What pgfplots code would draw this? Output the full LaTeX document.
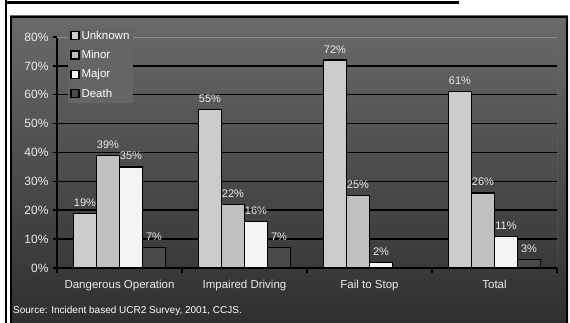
\documentclass[border=0pt]{standalone}
\usepackage{pgfplots}
\pgfplotsset{compat=1.18}
\usepackage{fontspec}
\setmainfont{Liberation Sans}

\definecolor{cUnknown}{HTML}{CCCCCC}
\definecolor{cMinor}{HTML}{C0C0C0}
\definecolor{cMajor}{HTML}{F4F4F4}
\definecolor{cDeath}{HTML}{4A4A4A}
\definecolor{panelTop}{HTML}{6A6A6A}
\definecolor{panelBot}{HTML}{2E2E2E}
\definecolor{labelgray}{HTML}{EBEBEB}
\definecolor{legbg}{HTML}{656565}
\definecolor{frameline}{HTML}{8A8A8A}

\begin{document}
\begin{tikzpicture}
\useasboundingbox (0pt,0pt) rectangle (570pt,323pt);
\fill[white] (0pt,0pt) rectangle (570pt,323pt);
% panel with vertical gradient
\shade[top color=panelTop, bottom color=panelBot] (10pt,-4pt) rectangle (568pt,307pt);
\draw[black, line width=2pt] (11pt,-6pt) -- (11pt,306pt) -- (567pt,306pt) -- (567pt,-6pt);
% header rule and left margin rule
\fill[black] (7pt,318.5pt) rectangle (459pt,322pt);
\fill[black] (5pt,0pt) rectangle (6.5pt,323pt);

\begin{axis}[
  at={(57pt,55pt)}, anchor=south west,
  scale only axis, width=500pt, height=231pt,
  xmin=-0.5, xmax=3.5, ymin=0, ymax=80,
  axis x line*=bottom, axis y line*=left,
  axis line style={black, line width=1.5pt, -},
  tick align=outside,
  major tick length=4pt,
  ytick={0,10,...,80},
  yticklabels={0\%,10\%,20\%,30\%,40\%,50\%,60\%,70\%,80\%},
  ytick style={black, line width=1.5pt},
  extra y ticks={10,20,...,70},
  extra y tick labels={},
  extra y tick style={grid=major, major grid style={black, line width=1.5pt}, ytick style={draw=none}},
  xtick={0,1,2,3},
  xticklabels={Dangerous Operation, Impaired Driving, Fail to Stop, Total},
  xtick style={draw=none},
  extra x ticks={-0.5,0.5,1.5,2.5,3.5},
  extra x tick labels={},
  extra x tick style={xtick style={draw=black, line width=1.5pt}, major tick length=5pt},
  y tick label style={font=\fontsize{12}{14}\selectfont, text=labelgray, xshift=-1pt},
  x tick label style={font=\fontsize{11.5}{13}\selectfont, text=labelgray, yshift=-5pt},
  /pgf/number format/assume math mode=true,
  ybar=0pt, bar width=23pt,
  every axis plot/.append style={draw=black, line width=1.2pt},
  nodes near coords={\pgfmathprintnumber[assume math mode=true]{\pgfplotspointmeta}\%},
  every node near coord/.append style={font=\fontsize{11}{13}\selectfont, text=labelgray, anchor=south, yshift=3pt},
  legend cell align=left,
  legend image code/.code={\draw[#1, line width=1.3pt] (0pt,-4pt) rectangle (8pt,4pt);},
  legend style={at={(0.022,1.045)}, anchor=north west, fill=legbg, draw=none,
    font=\fontsize{11.5}{13}\selectfont, text=white, row sep=5.5pt, inner sep=2pt},
]
\addplot[fill=cUnknown] coordinates {(0,19) (1,55) (2,72) (3,61)};
\addplot[fill=cMinor]   coordinates {(0,39) (1,22) (2,25) (3,26)};
\addplot[fill=cMajor]   coordinates {(0,35) (1,16) (2,2)  (3,11)};
\addplot[fill=cDeath]   coordinates {(0,7)  (1,7)  (3,3)};
\legend{Unknown, Minor, Major, Death}
\draw[frameline, line width=0.7pt] (rel axis cs:0,1) -- (rel axis cs:1,1) -- (rel axis cs:1,0);
\end{axis}

\node[anchor=west, text=white, font=\fontsize{10}{11}\selectfont, inner sep=0pt] at (13pt,12pt)
  {Source: Incident based UCR2 Survey, 2001, CCJS.};
\end{tikzpicture}
\end{document}
